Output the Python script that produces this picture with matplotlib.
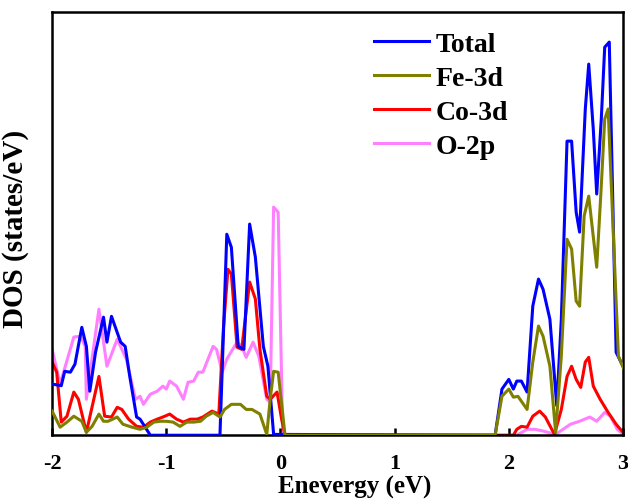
import matplotlib
matplotlib.use("Agg")

import numpy as np
import matplotlib.pyplot as plt

plt.rcParams["font.family"] = ["Liberation Serif", "DejaVu Serif"]
plt.rcParams["font.weight"] = "bold"
plt.rcParams["axes.unicode_minus"] = False

# =========================
# data
# =========================
total_e = [-2.0, -1.92, -1.89, -1.84, -1.80, -1.74, -1.70, -1.67, -1.62, -1.55, -1.52,
           -1.48, -1.40, -1.36, -1.32, -1.26, -1.23, -1.14, -0.53, -0.47, -0.43, -0.37,
           -0.32, -0.27, -0.22, -0.15, -0.11, -0.06, 1.88, 1.94, 2.00, 2.04, 2.07, 2.11,
           2.16, 2.21, 2.26, 2.30, 2.36, 2.42, 2.46, 2.51, 2.55, 2.59, 2.62, 2.67, 2.70,
           2.74, 2.77, 2.81, 2.84, 2.88, 2.94, 3.00]
total_dos = [1.21, 1.17, 1.51, 1.49, 1.68, 2.55, 2.10, 1.04, 1.96, 2.79, 2.20,
             2.81, 2.20, 2.10, 1.39, 0.43, 0.38, 0.0, 0.0, 4.75, 4.44, 2.10,
             2.03, 4.99, 4.21, 2.10, 1.63, 0.02, 0.0, 1.09, 1.32, 1.09, 1.28, 1.28,
             1.02, 3.05, 3.69, 3.45, 2.74, 0.70, 2.74, 6.95, 6.95, 5.27, 4.80, 7.71, 8.77,
             7.23, 5.70, 7.47, 9.17, 9.29, 1.96, 1.63]

fe_e = [-2.0, -1.93, -1.87, -1.81, -1.74, -1.70, -1.65, -1.59, -1.55, -1.51, -1.43,
        -1.38, -1.30, -1.23, -1.17, -1.11, -1.05, -1.00, -0.94, -0.88, -0.82, -0.76,
        -0.70, -0.65, -0.59, -0.53, -0.49, -0.43, -0.35, -0.30, -0.25, -0.18, -0.12,
        -0.09, -0.06, -0.02, 0.04, 1.88, 1.94, 2.00, 2.04, 2.08, 2.16, 2.21, 2.26,
        2.30, 2.36, 2.41, 2.46, 2.51, 2.55, 2.59, 2.62, 2.66, 2.70, 2.77, 2.81, 2.84,
        2.87, 2.96, 3.00]
fe_dos = [0.57, 0.19, 0.31, 0.45, 0.33, 0.07, 0.21, 0.50, 0.33, 0.33, 0.43,
          0.26, 0.19, 0.14, 0.19, 0.31, 0.33, 0.33, 0.31, 0.21, 0.31, 0.31,
          0.33, 0.45, 0.54, 0.43, 0.61, 0.73, 0.73, 0.61, 0.61, 0.50, 0.02,
          0.85, 1.51, 1.49, 0.0, 0.0, 0.92, 1.09, 0.90, 0.92, 0.61, 1.73, 2.58,
          2.34, 1.63, 0.07, 1.87, 4.63, 4.40, 3.17, 3.05, 5.18, 5.65, 3.97, 5.89, 7.47,
          7.71, 1.87, 1.61]

co_e = [-2.0, -1.96, -1.92, -1.87, -1.81, -1.77, -1.70, -1.59, -1.54, -1.48, -1.43,
        -1.39, -1.33, -1.26, -1.20, -1.14, -1.08, -1.03, -0.97, -0.91, -0.85, -0.79,
        -0.73, -0.68, -0.60, -0.54, -0.50, -0.46, -0.43, -0.38, -0.34, -0.27, -0.22,
        -0.18, -0.12, -0.09, -0.03, 0.01, 0.04, 2.04, 2.07, 2.11, 2.16, 2.21, 2.27,
        2.32, 2.40, 2.46, 2.51, 2.55, 2.59, 2.63, 2.67, 2.70, 2.74, 2.80, 2.87, 2.94,
        3.00]
co_dos = [1.73, 1.49, 0.31, 0.45, 1.02, 0.85, 0.07, 1.39, 0.45, 0.43, 0.66,
          0.61, 0.38, 0.21, 0.19, 0.31, 0.38, 0.43, 0.50, 0.38, 0.31, 0.38,
          0.38, 0.43, 0.57, 0.50, 2.51, 3.92, 3.81, 2.08, 2.03, 3.62, 3.22,
          2.03, 0.92, 0.85, 1.02, 0.38, 0.0, 0.0, 0.14, 0.21, 0.19, 0.45, 0.57,
          0.43, 0.02, 0.61, 1.39, 1.63, 1.32, 1.13, 1.73, 1.84, 1.16, 0.85, 0.54, 0.26,
          0.07]

o_e = [-2.0, -1.93, -1.81, -1.75, -1.71, -1.70, -1.59, -1.52, -1.43, -1.35, -1.27,
       -1.23, -1.20, -1.14, -1.08, -1.03, -1.00, -0.97, -0.91, -0.85, -0.81, -0.76,
       -0.72, -0.68, -0.59, -0.56, -0.51, -0.47, -0.38, -0.34, -0.30, -0.24, -0.19,
       -0.12, -0.09, -0.06, -0.02, 0.02, 2.07, 2.16, 2.23, 2.30, 2.41, 2.54, 2.62,
       2.71, 2.77, 2.84, 2.89, 2.95, 3.00]
o_dos = [2.03, 1.21, 2.32, 2.34, 2.10, 0.85, 2.98, 1.63, 2.27, 1.80, 0.85,
         0.92, 0.73, 0.97, 1.04, 1.16, 1.09, 1.28, 1.16, 0.85, 1.25, 1.28,
         1.49, 1.49, 2.10, 2.03, 1.49, 1.80, 2.20, 2.10, 1.84, 2.20, 1.87,
         0.85, 0.78, 5.39, 5.27, 0.0, 0.0, 0.14, 0.14, 0.10, 0.02, 0.26, 0.33,
         0.43, 0.33, 0.54, 0.45, 0.14, 0.02]

labels = ["Total", "Fe-3d", "Co-3d", "O-2p"]
colors = ["#0000ff", "#808000", "#ff0000", "#ff80ff"]

fig = plt.figure(figsize=(6.28, 5.02), dpi=100)
ax = fig.add_axes([0.083, 0.131, 0.909, 0.843])

series = [(total_e, total_dos), (fe_e, fe_dos), (co_e, co_dos), (o_e, o_dos)]
zorders = [3, 4, 2, 1]
for (e, d), lab, c, z in zip(series, labels, colors, zorders):
    ax.plot(e, d, color=c, lw=2.2, label=lab, zorder=z)

ax.set_xlim(-2, 3)
ax.set_ylim(0, 10)
ax.set_xticks([-2, -1, 0, 1, 2, 3])
ax.set_yticks([])
ax.tick_params(axis="x", direction="in", length=5, width=1.8, labelsize=16, pad=13)
for sp in ax.spines.values():
    sp.set_linewidth(1.8)

ax.set_xlabel("Enevergy (eV)", fontsize=18, fontweight="bold")
ax.xaxis.set_label_coords(0.53, -0.093)
ax.set_ylabel("DOS (states/eV)", fontsize=21, fontweight="bold")
ax.yaxis.set_label_coords(-0.04, 0.49)

handles, labs = ax.get_legend_handles_labels()
ax.legend(handles, labs, loc="upper left", bbox_to_anchor=(0.563, 0.955),
          frameon=False, fontsize=20, handlelength=2.0, handletextpad=0.25,
          labelspacing=0.31, borderpad=0, borderaxespad=0)

fig.savefig("out.png", dpi=100, facecolor="white")
